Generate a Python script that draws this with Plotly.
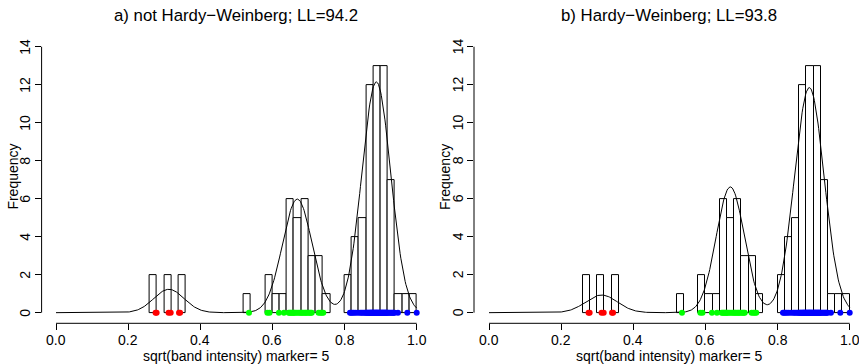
import numpy as np
import plotly.graph_objects as go

W, H = 859, 364

# ---------------- data ----------------
bin_left = [0.26, 0.30, 0.34, 0.52, 0.58, 0.60, 0.62, 0.64, 0.66, 0.68, 0.70, 0.72, 0.74,
            0.80, 0.82, 0.84, 0.86, 0.88, 0.90, 0.92, 0.94, 0.96, 0.98]
bin_counts = [2, 2, 2, 1, 2, 1, 1, 6, 5, 6, 3, 3, 1,
              2, 4, 5, 12, 13, 13, 7, 1, 1, 1]
bin_width = 0.02

red_pts = [0.276, 0.279, 0.312, 0.318, 0.341, 0.344]
green_pts = [0.535, 0.586, 0.592, 0.618, 0.632,
             0.645, 0.648, 0.651, 0.654, 0.657, 0.659,
             0.662, 0.666, 0.671, 0.675, 0.679,
             0.682, 0.685, 0.689, 0.692, 0.695, 0.699,
             0.703, 0.706, 0.709, 0.728, 0.733, 0.737, 0.741]
blue_pts = [0.815, 0.818, 0.822, 0.826, 0.831, 0.837,
            0.843, 0.847, 0.851, 0.855, 0.858,
            0.861, 0.863, 0.865, 0.867, 0.869, 0.871, 0.872, 0.874, 0.875, 0.877, 0.878, 0.879,
            0.881, 0.882, 0.884, 0.885, 0.887, 0.888, 0.889, 0.891, 0.892, 0.894, 0.895, 0.897, 0.899,
            0.901, 0.902, 0.904, 0.905, 0.907, 0.908, 0.910, 0.911, 0.913, 0.914, 0.916, 0.917, 0.919,
            0.922, 0.925, 0.928, 0.931, 0.934, 0.936, 0.939,
            0.948, 0.974, 1.000]

# fitted mixture components (mean, sd, peak height in counts)
a_means = [0.313, 0.669, 0.888]
a_sds = [0.042, 0.041, 0.040]
a_peaks = [1.23, 5.98, 12.15]
b_means = [0.312, 0.669, 0.888]
b_sds = [0.044, 0.039, 0.041]
b_peaks = [0.93, 6.62, 11.85]

titles = ["a) not Hardy\u2212Weinberg; LL=94.2", "b) Hardy\u2212Weinberg; LL=93.8"]
x_title = "sqrt(band intensity) marker= 5"
y_title = "Frequency"
x_ticks = [0.0, 0.2, 0.4, 0.6, 0.8, 1.0]
x_ticktext = ["0.0", "0.2", "0.4", "0.6", "0.8", "1.0"]
y_ticks = [0, 2, 4, 6, 8, 10, 12, 14]

# ---------------- layout geometry (pixels) ----------------
panels = [
    dict(px0=56.0, left=41.6, right=429.0, means=a_means, sds=a_sds, peaks=a_peaks, title=titles[0]),
    dict(px0=489.0, left=474.0, right=859.0, means=b_means, sds=b_sds, peaks=b_peaks, title=titles[1]),
]
scale = 360.7
y_bot_px, y_top_px = 323.3, 36.1
y_ppu = (y_bot_px - y_top_px) / 15.12
FONT = "Liberation Sans, Arial"

fig = go.Figure()
grid = np.linspace(0, 1, 501)
bar_x = [l + bin_width / 2 for l in bin_left]

shapes = []
annotations = []


def ann(text, xpx, ypx, size=14, angle=0):
    annotations.append(dict(text=text, x=xpx / W, y=1 - ypx / H, xref="paper", yref="paper",
                            showarrow=False, xanchor="center", yanchor="middle", textangle=angle,
                            borderpad=0,
                            font=dict(family=FONT, size=size, color="black")))


for i, p in enumerate(panels):
    xa = "x" if i == 0 else "x2"
    ya = "y" if i == 0 else "y2"
    fig.add_trace(go.Bar(x=bar_x, y=bin_counts, width=bin_width,
                         marker=dict(color="white", line=dict(color="black", width=1)),
                         xaxis=xa, yaxis=ya, hoverinfo="skip"))
    dens = np.zeros_like(grid)
    for m, s, pk in zip(p["means"], p["sds"], p["peaks"]):
        dens += pk * np.exp(-0.5 * ((grid - m) / s) ** 2)
    fig.add_trace(go.Scatter(x=grid, y=dens, mode="lines", line=dict(color="black", width=1),
                             xaxis=xa, yaxis=ya, hoverinfo="skip"))
    for pts, col in [(red_pts, "#FF0000"), (green_pts, "#00FF00"), (blue_pts, "#0000FF")]:
        fig.add_trace(go.Scatter(x=pts, y=[0] * len(pts), mode="markers",
                                 marker=dict(color=col, size=6, line=dict(width=0)),
                                 xaxis=xa, yaxis=ya, cliponaxis=False, hoverinfo="skip"))

    r0 = (p["left"] - p["px0"]) / scale
    r1 = (p["right"] - p["px0"]) / scale
    axis_x = dict(domain=[p["left"] / W, p["right"] / W], range=[r0, r1],
                  tickvals=x_ticks, ticks="outside", ticklen=6, showticklabels=False,
                  tickwidth=1, tickcolor="black", showgrid=False, zeroline=False, showline=False,
                  anchor=ya)
    axis_y = dict(domain=[1 - y_bot_px / H, 1 - y_top_px / H], range=[-0.56, 14.56],
                  tickvals=y_ticks, ticks="outside", ticklen=6, showticklabels=False,
                  tickwidth=1, tickcolor="black", showgrid=False, zeroline=False, showline=False,
                  anchor=xa)
    if i == 0:
        fig.update_layout(xaxis=axis_x, yaxis=axis_y)
    else:
        fig.update_layout(xaxis2=axis_x, yaxis2=axis_y)

    # axis lines (R style: span first to last tick)
    x0p = p["px0"] / W
    x1p = (p["px0"] + scale) / W
    shapes.append(dict(type="line", xref="paper", yref="paper", x0=x0p, x1=x1p,
                       y0=1 - y_bot_px / H, y1=1 - y_bot_px / H, line=dict(color="black", width=1)))
    y0px = y_bot_px - 0.56 * y_ppu
    y1px = y_bot_px - 14.56 * y_ppu
    shapes.append(dict(type="line", xref="paper", yref="paper", x0=p["left"] / W, x1=p["left"] / W,
                       y0=1 - y0px / H, y1=1 - y1px / H, line=dict(color="black", width=1)))

    # tick labels
    for v, t in zip(x_ticks, x_ticktext):
        ann(t, p["px0"] + v * scale, 340)
    for v in y_ticks:
        ann(str(v), p["left"] - 16.5, y_bot_px - (v + 0.56) * y_ppu, angle=-90)

    cx = (p["left"] + p["px0"] + 1.04 * scale) / 2
    ann(p["title"], cx, 16, size=16.8)
    ann(x_title, cx, 355.5)
    ann(y_title, p["left"] - 29, 177, angle=-90)

fig.update_layout(width=W, height=H, margin=dict(l=0, r=0, t=0, b=0),
                  paper_bgcolor="white", plot_bgcolor="white", showlegend=False,
                  bargap=0, shapes=shapes, annotations=annotations)

fig.write_html("out.html")
